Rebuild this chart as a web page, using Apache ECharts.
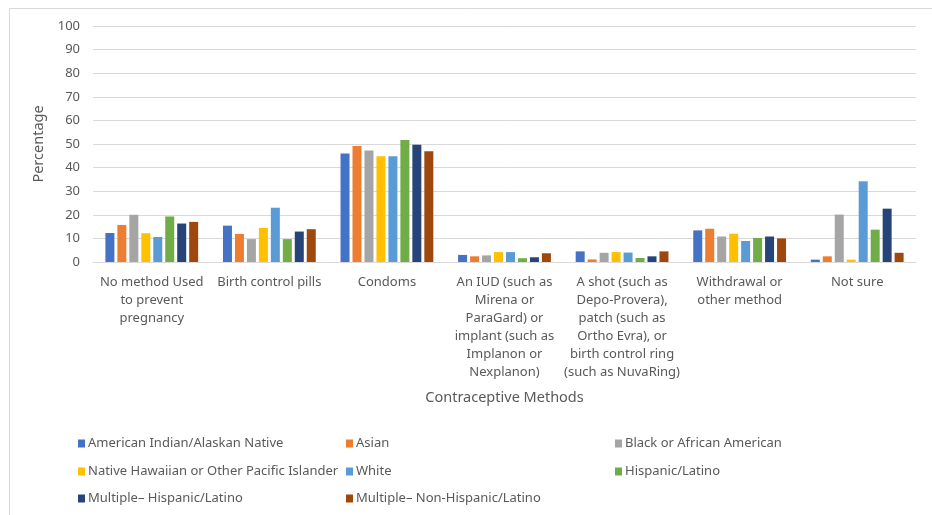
<!DOCTYPE html>
<html>
<head>
<meta charset="utf-8">
<script src="https://cdn.jsdelivr.net/npm/echarts@6/dist/echarts.min.js"></script>
<style>
  html, body { margin: 0; padding: 0; background: #fff; }
  #chart { width: 932px; height: 515px; }
</style>
</head>
<body>
<div id="chart"></div>
<script>
// Contraceptive method used at last sex, by race/ethnicity (percent)
const categories = [
  'No method Used\nto prevent\npregnancy',
  'Birth control pills',
  'Condoms',
  'An IUD (such as\nMirena or\nParaGard) or\nimplant (such as\nImplanon or\nNexplanon)',
  'A shot (such as\nDepo-Provera),\npatch (such as\nOrtho Evra), or\nbirth control ring\n(such as NuvaRing)',
  'Withdrawal or\nother method',
  'Not sure'
];

const seriesNames = [
  'American Indian/Alaskan Native',
  'Asian',
  'Black or African American',
  'Native Hawaiian or Other Pacific Islander',
  'White',
  'Hispanic/Latino',
  'Multiple\u2013 Hispanic/Latino',
  'Multiple\u2013 Non-Hispanic/Latino'
];

const americanIndian   = [12.3, 15.4, 46.0, 3.0, 4.5, 13.4, 1.0];
const asian            = [15.7, 11.9, 49.1, 2.4, 1.1, 14.1, 2.4];
const black            = [20.0,  9.7, 47.2, 2.8, 3.9, 10.8, 20.1];
const nativeHawaiian   = [12.2, 14.4, 44.8, 4.2, 4.2, 12.0, 1.0];
const white            = [10.6, 23.0, 44.8, 4.2, 4.0,  8.9, 34.2];
const hispanic         = [19.3,  9.7, 51.7, 1.6, 1.7, 10.2, 13.7];
const multipleHispanic = [16.3, 12.9, 49.7, 2.0, 2.4, 10.8, 22.6];
const multipleNonHisp  = [17.0, 13.9, 46.9, 3.7, 4.5, 10.0, 3.9];

const yTicks = [0, 10, 20, 30, 40, 50, 60, 70, 80, 90, 100];

const seriesValues = [americanIndian, asian, black, nativeHawaiian, white, hispanic, multipleHispanic, multipleNonHisp];
const colors = ['#4472C4', '#ED7D31', '#A5A5A5', '#FFC000', '#5B9BD5', '#70AD47', '#264478', '#9E480E'];

const FONT = 'Noto Sans';
const TEXT = '#595959';

// legend slots: [left, top] for each series entry, three columns
const legendSlots = [
  [78, 437], [346, 437], [615, 437],
  [78, 465], [346, 465], [615, 465],
  [78, 492], [346, 492]
];

const chart = echarts.init(document.getElementById('chart'));

chart.setOption({
  animation: false,
  backgroundColor: '#fff',
  color: colors,
  textStyle: { fontFamily: FONT },
  grid: { left: 93, right: 16, top: 26, bottom: 253, containLabel: false },
  graphic: [
    { type: 'line', shape: { x1: 9.5, y1: 8.5, x2: 932, y2: 8.5 }, style: { stroke: '#d9d9d9', lineWidth: 1 } },
    { type: 'line', shape: { x1: 9.5, y1: 8.5, x2: 9.5, y2: 515 }, style: { stroke: '#d9d9d9', lineWidth: 1 } }
  ],
  legend: seriesNames.map((name, i) => ({
    data: [name],
    left: legendSlots[i][0],
    top: legendSlots[i][1],
    itemWidth: 7,
    itemHeight: 8,
    itemGap: 4,
    padding: 0,
    icon: 'rect',
    selectedMode: false,
    textStyle: { color: TEXT, fontSize: 13, fontFamily: FONT, padding: [0, 0, 0, -2] }
  })),
  xAxis: {
    type: 'category',
    data: categories,
    name: 'Contraceptive Methods',
    nameLocation: 'middle',
    nameGap: 128,
    nameTextStyle: { color: TEXT, fontSize: 14.5, fontFamily: FONT },
    axisLine: { lineStyle: { color: '#d9d9d9' } },
    axisTick: { show: false },
    axisLabel: {
      interval: 0,
      color: TEXT,
      fontSize: 13,
      fontFamily: FONT,
      lineHeight: 18,
      margin: 11
    }
  },
  yAxis: {
    type: 'value',
    min: 0,
    max: 100,
    interval: 10,
    name: 'Percentage',
    nameLocation: 'middle',
    nameGap: 43,
    nameTextStyle: { color: TEXT, fontSize: 14.5, fontFamily: FONT },
    axisLine: { show: false },
    axisTick: { show: false },
    splitLine: { lineStyle: { color: '#d9d9d9' } },
    axisLabel: {
      color: TEXT,
      fontSize: 13,
      fontFamily: FONT,
      margin: 13,
      formatter: v => (yTicks.includes(v) ? String(v) : '')
    }
  },
  series: seriesNames.map((name, i) => ({
    name,
    type: 'bar',
    data: seriesValues[i],
    barWidth: 9,
    barGap: '33%',
    itemStyle: { color: colors[i] }
  }))
});
</script>
</body>
</html>
